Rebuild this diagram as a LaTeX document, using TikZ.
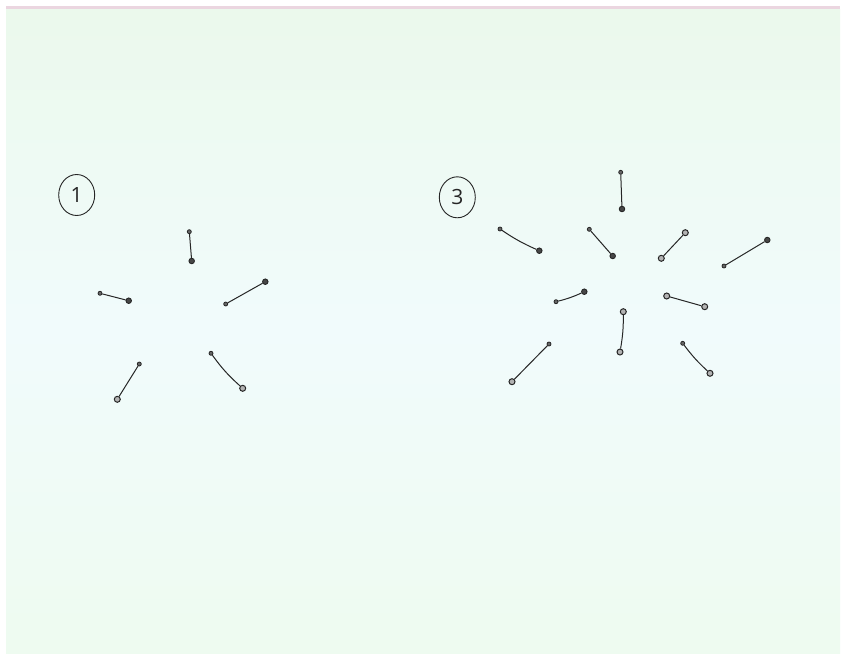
\documentclass[tikz,border=0pt]{standalone}
\usetikzlibrary{shapes.geometric}
\usepackage{fontspec}
\newfontfamily\handfont{Open Sans}
\definecolor{ink}{HTML}{262626}
\definecolor{papertop}{HTML}{EBF9EC}
\definecolor{papermid}{HTML}{F1FBFC}
\definecolor{paperbot}{HTML}{EEFBF0}
\definecolor{edgepink}{HTML}{EBD6E0}
\begin{document}
\begin{tikzpicture}[x=1pt,y=-1pt,
  seg/.style={draw=ink, line width=1pt},
  dsm/.style={circle, draw=ink, fill=ink!70, line width=0.8pt, inner sep=0pt, minimum size=4pt},
  dbg/.style={circle, draw=ink, fill=ink!85, line width=0.9pt, inner sep=0pt, minimum size=5.5pt},
  dring/.style={circle, draw=ink, fill=ink!35, line width=1pt, inner sep=0pt, minimum size=6pt},
  label/.style={ellipse, draw=ink, line width=0.9pt, inner sep=0pt, minimum width=36pt, minimum height=41pt, font=\handfont\fontsize{21}{21}\selectfont, text=ink}]
\useasboundingbox (0,0) rectangle (841,656);
\fill[white] (0,0) rectangle (841,656);
\shade[top color=papertop, bottom color=papermid] (6,9) rectangle (840,330);
\shade[top color=papermid, bottom color=paperbot] (6,330) rectangle (840,653);
\fill[edgepink] (6,6) rectangle (840,9);

% group 1
\node[label] (L1) at (76.7,195) {1};
\node[dsm] (a1) at (189.3,231.7) {};
\node[dbg] (a2) at (191.7,261) {};
\node[dsm] (b1) at (100,293.3) {};
\node[dbg] (b2) at (128.7,300.7) {};
\node[dsm] (c1) at (225.7,304) {};
\node[dbg] (c2) at (265.3,281.7) {};
\node[dsm] (d1) at (139.3,364) {};
\node[dring] (d2) at (117.3,399.3) {};
\node[dsm] (e1) at (211,353.3) {};
\node[dring] (e2) at (242.7,388.3) {};
\draw[seg] (a1) -- (a2);
\draw[seg] (b1) -- (b2);
\draw[seg] (c1) -- (c2);
\draw[seg] (d1) -- (d2);
\draw[seg] (e1) to[bend right=6] (e2);

% group 3
\node[label] (L3) at (457.3,197.3) {3};
\node[dsm] (s1a) at (620.7,172.3) {};
\node[dbg] (s1b) at (622,209) {};
\node[dsm] (s2a) at (500,229) {};
\node[dbg] (s2b) at (539.3,250.7) {};
\node[dsm] (s3a) at (589.3,229.3) {};
\node[dbg] (s3b) at (612.7,256) {};
\node[dring] (s4a) at (685.3,232.7) {};
\node[dring] (s4b) at (661.3,258.3) {};
\node[dbg] (s5a) at (767.3,240) {};
\node[dsm] (s5b) at (724,266) {};
\node[dsm] (s6a) at (556,301.7) {};
\node[dbg] (s6b) at (584.3,291.7) {};
\node[dring] (s7a) at (666.7,296) {};
\node[dring] (s7b) at (704.7,306.7) {};
\node[dring] (s8a) at (623.3,311.7) {};
\node[dring] (s8b) at (620,352) {};
\node[dsm] (s9a) at (549,344) {};
\node[dring] (s9b) at (512,381.7) {};
\node[dsm] (s10a) at (682.7,343.3) {};
\node[dring] (s10b) at (710,373.3) {};
\draw[seg] (s1a) -- (s1b);
\draw[seg] (s2a) to[bend right=5] (s2b);
\draw[seg] (s3a) -- (s3b);
\draw[seg] (s4a) -- (s4b);
\draw[seg] (s5a) -- (s5b);
\draw[seg] (s6a) to[bend right=5] (s6b);
\draw[seg] (s7a) -- (s7b);
\draw[seg] (s8a) to[bend left=5] (s8b);
\draw[seg] (s9a) -- (s9b);
\draw[seg] (s10a) to[bend right=5] (s10b);
\end{tikzpicture}
\end{document}
